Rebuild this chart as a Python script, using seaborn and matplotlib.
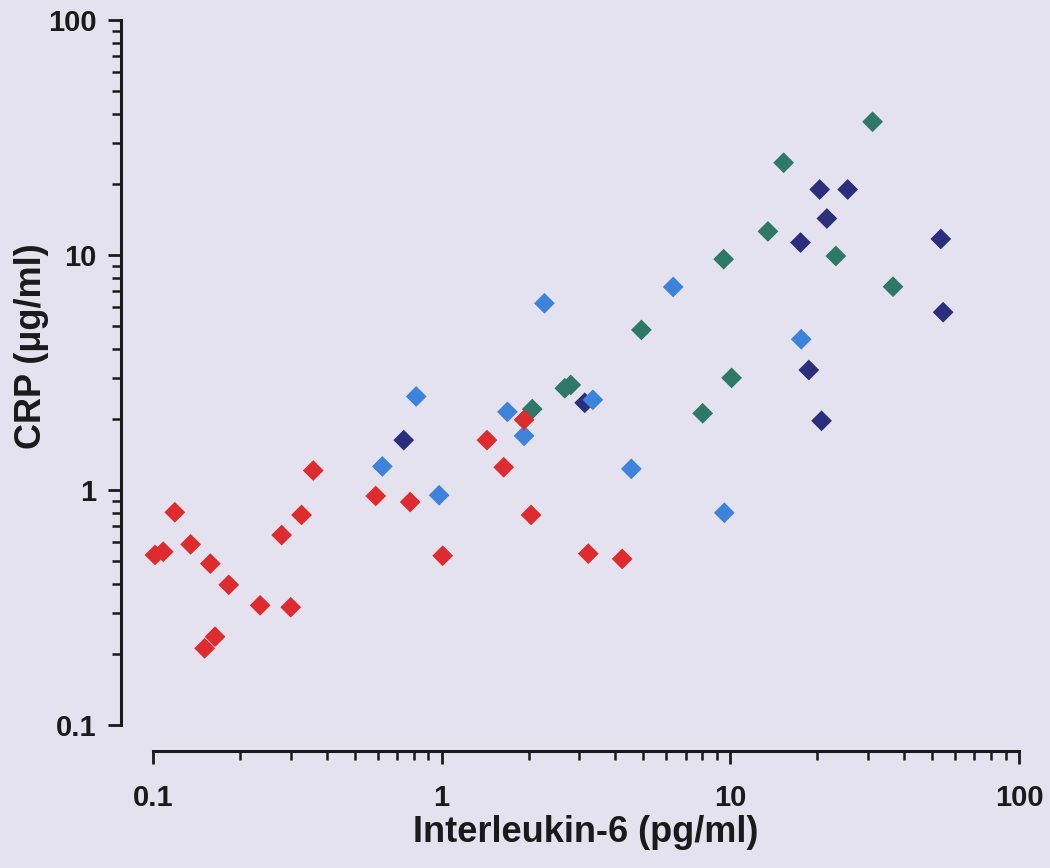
import matplotlib
matplotlib.use("Agg")
import matplotlib.pyplot as plt
import matplotlib.ticker as mticker
import seaborn as sns
import pandas as pd

# ---- data ----
teal_il6 = [2.06, 2.67, 2.80, 4.92, 8.02, 9.48, 10.1, 13.5, 15.3, 23.2, 31.1, 36.6]
teal_crp = [2.21, 2.71, 2.80, 4.80, 2.12, 9.60, 3.00, 12.6, 24.7, 9.90, 36.9, 7.33]

navy_il6 = [0.739, 3.13, 17.5, 18.7, 20.4, 20.7, 21.6, 25.5, 53.6, 54.6]
navy_crp = [1.63, 2.35, 11.3, 3.24, 19.0, 1.97, 14.3, 19.0, 11.7, 5.71]

blue_il6 = [0.623, 0.816, 0.980, 1.69, 1.93, 2.27, 3.34, 4.54, 6.34, 9.53, 17.6]
blue_crp = [1.26, 2.50, 0.950, 2.15, 1.70, 6.23, 2.42, 1.23, 7.31, 0.800, 4.38]

red_il6 = [0.1016, 0.1085, 0.119, 0.135, 0.158, 0.183, 0.151, 0.164, 0.235, 0.300,
           0.279, 0.327, 0.359, 0.591, 0.778, 1.008, 1.435, 1.64, 1.93, 2.04, 3.22, 4.22]
red_crp = [0.529, 0.546, 0.804, 0.587, 0.486, 0.395, 0.212, 0.2375, 0.323, 0.317,
           0.643, 0.783, 1.21, 0.943, 0.889, 0.525, 1.63, 1.25, 1.99, 0.783, 0.536, 0.509]

groups = ["teal", "navy", "blue", "red"]
group_colors = ["#2D7866", "#2B2E7C", "#3D83DC", "#DF2A2E"]

x_ticks = [0.1, 1, 10, 100]
y_ticks = [0.1, 1, 10, 100]
x_label = "Interleukin-6 (pg/ml)"
y_label = "CRP (\u03bcg/ml)"

df = pd.concat([
    pd.DataFrame({"il6": teal_il6, "crp": teal_crp, "group": "teal"}),
    pd.DataFrame({"il6": navy_il6, "crp": navy_crp, "group": "navy"}),
    pd.DataFrame({"il6": blue_il6, "crp": blue_crp, "group": "blue"}),
    pd.DataFrame({"il6": red_il6, "crp": red_crp, "group": "red"}),
], ignore_index=True)

# ---- style ----
sns.set_style("ticks")
bg = "#E3E2EE"
plt.rcParams["font.family"] = ["Liberation Sans", "DejaVu Sans"]
plt.rcParams["font.weight"] = "bold"
plt.rcParams["axes.labelweight"] = "bold"

fig = plt.figure(figsize=(10.5, 8.68), dpi=100, facecolor=bg)
ax = fig.add_axes([153 / 1050, 1 - 725 / 868, 866 / 1050, 705 / 868])
ax.set_facecolor(bg)

sns.scatterplot(data=df, x="il6", y="crp", hue="group", hue_order=groups,
                palette=dict(zip(groups, group_colors)), marker="D", s=112,
                linewidth=0, legend=False, ax=ax, zorder=3, clip_on=False)

ax.set_xscale("log")
ax.set_yscale("log")
ax.set_xlim(0.1, 100)
ax.set_ylim(0.1, 100)

fmt = mticker.FuncFormatter(lambda v, p: f"{v:g}")
ax.xaxis.set_major_locator(mticker.FixedLocator(x_ticks))
ax.yaxis.set_major_locator(mticker.FixedLocator(y_ticks))
ax.xaxis.set_major_formatter(fmt)
ax.yaxis.set_major_formatter(fmt)
ax.xaxis.set_minor_locator(mticker.LogLocator(base=10, subs=range(2, 10), numticks=20))
ax.yaxis.set_minor_locator(mticker.LogLocator(base=10, subs=range(2, 10), numticks=20))
ax.xaxis.set_minor_formatter(mticker.NullFormatter())
ax.yaxis.set_minor_formatter(mticker.NullFormatter())

for s in ["top", "right"]:
    ax.spines[s].set_visible(False)
ax.spines["left"].set_position(("outward", 23))
ax.spines["bottom"].set_position(("outward", 19))
for s in ["left", "bottom"]:
    ax.spines[s].set_linewidth(2.2)
    ax.spines[s].set_color("#1a1a1a")

ax.tick_params(which="major", length=9.5, width=2.0, color="#1a1a1a",
               labelsize=21, labelcolor="#1a1a1a")
ax.tick_params(which="minor", length=6.5, width=1.8, color="#1a1a1a")
ax.tick_params(axis="x", which="major", pad=14)
ax.tick_params(axis="y", which="major", pad=8)
for lab in ax.get_xticklabels() + ax.get_yticklabels():
    lab.set_fontweight("bold")

ax.set_xlabel(x_label, fontsize=26, fontweight="bold", color="#1a1a1a", va="top")
ax.set_ylabel(y_label, fontsize=26, fontweight="bold", color="#1a1a1a", va="center")
ax.xaxis.set_label_coords(0.5, (725 - 815) / 705)
ax.yaxis.set_label_coords((32 - 153) / 866, (725 - 346) / 705)

fig.savefig("out.png", dpi=100, facecolor=bg)
